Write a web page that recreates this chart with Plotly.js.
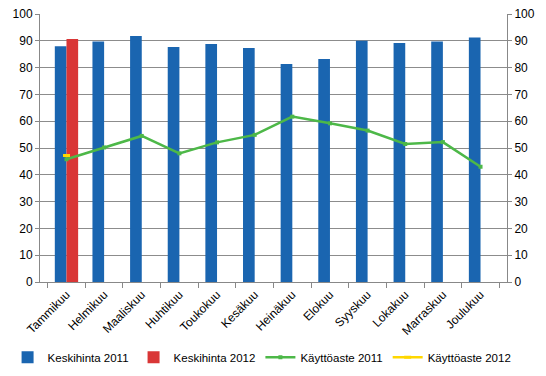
<!DOCTYPE html>
<html><head><meta charset="utf-8">
<script src="https://cdn.plot.ly/plotly-3.0.1.min.js"></script>
<style>html,body{margin:0;padding:0;background:#fff}#c{width:546px;height:376px}</style>
</head><body><div id="c"></div>
<script>
const months = ["Tammikuu","Helmikuu","Maaliskuu","Huhtikuu","Toukokuu","Kesäkuu","Heinäkuu","Elokuu","Syyskuu","Lokakuu","Marraskuu","Joulukuu"];
const price2011 = [88.0, 89.7, 91.8, 87.7, 88.8, 87.3, 81.3, 83.2, 90.0, 89.2, 89.7, 91.2];
const price2012 = [90.7, null, null, null, null, null, null, null, null, null, null, null];
const occ2011 = [45.8, 50.2, 54.5, 48.0, 52.1, 54.9, 61.7, 59.2, 56.5, 51.5, 52.2, 43.0];
const occ2012 = [47.2, null, null, null, null, null, null, null, null, null, null, null];

const fam = "Liberation Sans, Arial, sans-serif";
const traces = [
  {type:"bar", name:"Keskihinta 2011", x:months, y:price2011, marker:{color:"#1a65b0"}},
  {type:"bar", name:"Keskihinta 2012", x:months, y:price2012, marker:{color:"#d93636"}},
  {type:"scatter", mode:"lines+markers", name:"Käyttöaste 2011", x:months, y:occ2011, yaxis:"y2",
   line:{color:"#4db848", width:2.5}, marker:{symbol:"square", size:4, color:"#4db848"}},
  {type:"scatter", mode:"lines+markers", name:"Käyttöaste 2012", x:months, y:occ2012, yaxis:"y2",
   line:{color:"#ffd700", width:2.5}, marker:{symbol:"line-ew", size:5, line:{color:"#ffd700", width:3}}}
];
const layout = {
  width:546, height:376,
  margin:{l:0, r:0, t:14, b:94},
  paper_bgcolor:"#fff", plot_bgcolor:"#fff",
  font:{family:fam, size:12, color:"#000"},
  barmode:"group", bargap:0.38, bargroupgap:0,
  showlegend:true,
  legend:{orientation:"h", xref:"container", yref:"container", x:0.48, xanchor:"center", y:0.05, yanchor:"middle",
          font:{family:fam, size:11.5}, itemwidth:30,
          traceorder:"normal", tracegroupgap:0},
  xaxis:{domain:[40/546, 507/546], tickangle:-45, ticks:"outside", tickson:"boundaries", ticklen:5, tickcolor:"#888",
         showline:true, linecolor:"#888", linewidth:1, showgrid:false, tickfont:{family:fam, size:12}, automargin:false},
  yaxis:{range:[0,100], dtick:10, showgrid:true, gridcolor:"#8c8c8c", gridwidth:1, showline:true, linecolor:"#888",
         ticks:"outside", ticklen:4, tickcolor:"#888", zeroline:false, tickfont:{family:fam, size:12}, automargin:false},
  yaxis2:{range:[0,100], dtick:10, overlaying:"y", side:"right", showgrid:false, showline:true, linecolor:"#888",
          ticks:"outside", ticklen:4, tickcolor:"#888", zeroline:false, tickfont:{family:fam, size:12}, automargin:false}
};
Plotly.newPlot("c", traces, layout, {displayModeBar:false, staticPlot:true});
</script></body></html>
